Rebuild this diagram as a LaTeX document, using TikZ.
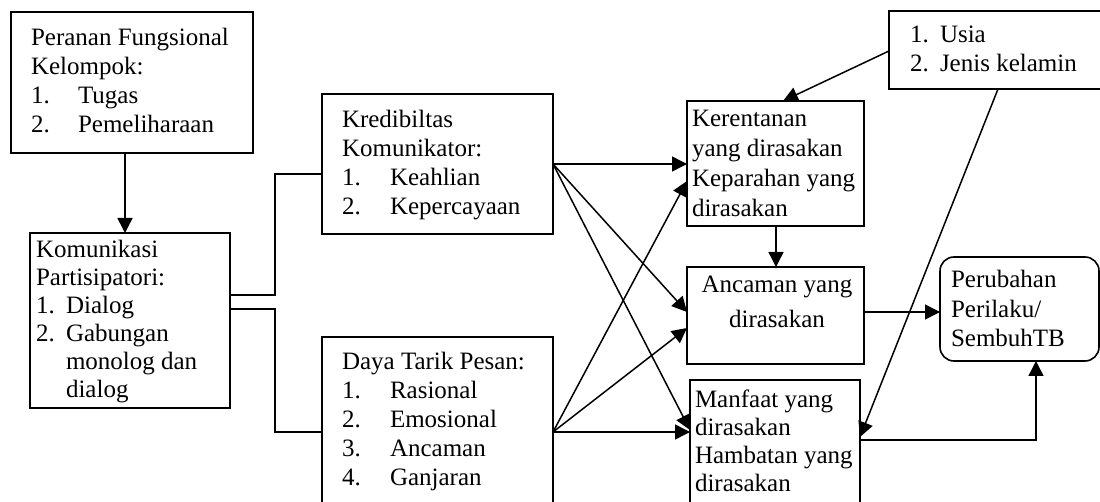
\documentclass[tikz,border=0pt]{standalone}
\usepackage{fontspec}
\setmainfont{Liberation Serif}
\usetikzlibrary{arrows.meta,calc}
\newcommand{\mynum}[2]{\makebox[#1][l]{#2}}
\begin{document}
\begin{tikzpicture}[x=1pt,y=-1pt,
  box/.style={draw, line width=1.6pt, inner sep=0pt, outer sep=0pt, anchor=north west},
  txt/.style={inner sep=0pt, outer sep=0pt, anchor=base west, font=\fontsize{25}{29}\selectfont},
  arr/.style={line width=1.5pt, -{Triangle[length=15pt,width=15pt]}},
  ln/.style={line width=1.5pt}]
\useasboundingbox (0,0) rectangle (1100,502);
\clip (0,0) rectangle (1100,502);
% boxes
\node[box, minimum width=242pt, minimum height=141pt] (A) at (11,12) {};
\node[box, minimum width=200pt, minimum height=175pt] (B) at (30,233) {};
\node[box, minimum width=231pt, minimum height=140pt] (C) at (322,94) {};
\node[box, minimum width=231pt, minimum height=190pt] (D) at (322,337) {};
\node[box, minimum width=177pt, minimum height=125pt] (E) at (687,101) {};
\node[box, minimum width=177pt, minimum height=97pt] (F) at (687,267) {};
\node[box, minimum width=170pt, minimum height=150pt] (G) at (690,380) {};
\node[box, minimum width=212pt, minimum height=78pt] (H) at (889,11) {};
\node[box, rounded corners=14pt, minimum width=159pt, minimum height=104pt] (I) at (940,257) {};
% texts
\node[txt] (At) at (31,46) {\parbox[t]{230pt}{Peranan Fungsional\\Kelompok:\\\mynum{47pt}{1.}Tugas\\\mynum{47pt}{2.}Pemeliharaan}};
\node[txt, font=\fontsize{25}{28}\selectfont] (Bt) at (36,258) {\parbox[t]{190pt}{Komunikasi\\Partisipatori:\\\mynum{30pt}{1.}Dialog\\\mynum{30pt}{2.}Gabungan\\\hspace*{30pt}monolog dan\\\hspace*{30pt}dialog}};
\node[txt] (Ct) at (342,128) {\parbox[t]{210pt}{Kredibiltas\\Komunikator:\\\mynum{48pt}{1.}Keahlian\\\mynum{48pt}{2.}Kepercayaan}};
\node[txt] (Dt) at (342,370) {\parbox[t]{210pt}{Daya Tarik Pesan:\\\mynum{48pt}{1.}Rasional\\\mynum{48pt}{2.}Emosional\\\mynum{48pt}{3.}Ancaman\\\mynum{48pt}{4.}Ganjaran}};
\node[txt, font=\fontsize{25}{30}\selectfont] (Et) at (692,127) {\parbox[t]{170pt}{Kerentanan\\yang dirasakan\\Keparahan yang\\dirasakan}};
\node[txt, anchor=base, font=\fontsize{25}{35}\selectfont] (Ft) at (777,293) {\parbox[t]{170pt}{\centering Ancaman yang\\dirasakan}};
\node[txt, font=\fontsize{25}{28.3}\selectfont] (Gt) at (695,407) {\parbox[t]{165pt}{Manfaat yang\\dirasakan\\Hambatan yang\\dirasakan}};
\node[txt] (Ht) at (910,43) {\parbox[t]{185pt}{\mynum{30pt}{1.}Usia\\\mynum{30pt}{2.}Jenis kelamin}};
\node[txt, font=\fontsize{25}{29.5}\selectfont] (It) at (951,288) {\parbox[t]{145pt}{Perubahan\\Perilaku/\\SembuhTB}};
% connectors
\draw[arr] ($(A.south)+(-7,0)$) -- ($(A.south)+(-7,80)$);
\draw[ln] ($(B.north east)+(0,62)$) -- ++(45,0) |- ($(C.north west)+(0,80)$);
\draw[ln] ($(B.north east)+(0,76)$) -- ++(45,0) |- ($(D.north west)+(0,95)$);
\draw[arr] ($(C.north east)+(0,70)$) -- ($(E.north west)+(0,63)$);
\draw[arr] ($(C.north east)+(0,70)$) -- ($(F.north west)+(0,45)$);
\draw[arr] ($(C.north east)+(0,70)$) -- ($(G.north west)+(0,50)$);
\draw[arr] ($(D.north east)+(0,95)$) -- ($(E.north west)+(0,80)$);
\draw[arr] ($(D.north east)+(0,95)$) -- ($(F.north west)+(0,61)$);
\draw[arr] ($(D.north east)+(0,95)$) -- ($(G.north west)+(0,52)$);
\draw[arr] ($(H.north west)+(0,40)$) -- ($(E.north)+(7.5,0)$);
\draw[arr] ($(H.south west)+(109,0)$) -- ($(G.north east)+(0,57)$);
\draw[arr] ($(E.south)+(0.5,0)$) -- ($(F.north)+(0.5,0)$);
\draw[arr] ($(F.north east)+(0,45)$) -- ($(I.north west)+(0,55)$);
\draw[arr] ($(G.north east)+(0,60)$) -| ($(I.south west)+(96,0)$);
\end{tikzpicture}
\end{document}
